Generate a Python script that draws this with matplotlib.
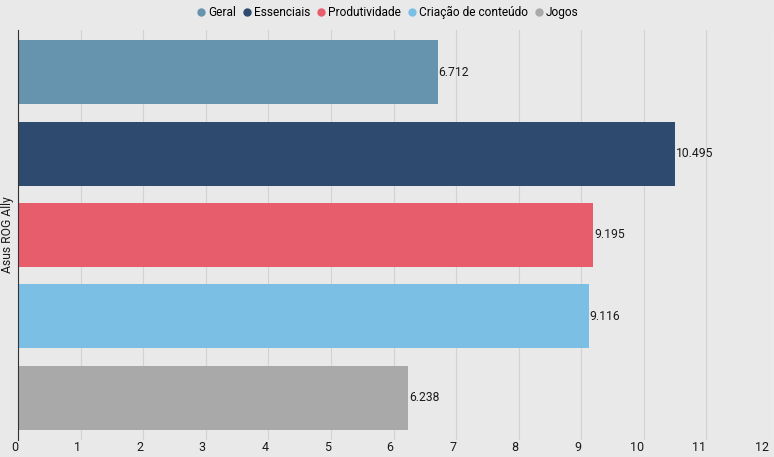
import matplotlib.pyplot as plt

plt.rcParams['font.family'] = ['Roboto', 'DejaVu Sans']

# dados
device = 'Asus ROG Ally'
series = ['Geral', 'Essenciais', 'Produtividade', 'Criação de conteúdo', 'Jogos']
values = [6.712, 10.495, 9.195, 9.116, 6.238]
colors = ['#6693ad', '#2f4a6f', '#e85d6b', '#7bbfe4', '#a9a9a9']
xticks = list(range(0, 13))

bg = '#e9e9e9'
fig = plt.figure(figsize=(7.74, 4.57), dpi=100, facecolor=bg)
ax = fig.add_axes([18 / 774, 17 / 457, 751 / 774, 410 / 457])
ax.set_facecolor(bg)

pos = list(range(len(values)))
bars = ax.barh(pos, values, height=0.79, color=colors, zorder=2)
for p, v in zip(pos, values):
    ax.text(v + 0.01, p, f'{v:.3f}', va='center', ha='left', fontsize=8.7, color='#1a1a1a', zorder=3)

ax.set_xlim(0, 12)
ax.set_ylim(4.52, -0.52)
ax.set_xticks(xticks)
ax.set_xticklabels([str(t) for t in xticks], ha='right', fontsize=9, color='#1a1a1a')
ax.tick_params(axis='x', length=0, pad=1)
ax.set_yticks([])
ax.grid(axis='x', color='#d2d2d2', linewidth=0.8, zorder=0)

for s in ['top', 'right', 'bottom']:
    ax.spines[s].set_visible(False)
ax.spines['left'].set_color('#333333')
ax.spines['left'].set_linewidth(0.8)

ax.set_ylabel(device, fontsize=8.7, color='#1a1a1a', labelpad=3)

handles = [plt.Line2D([], [], marker='o', linestyle='', color=c, markersize=5) for c in colors]
fig.legend(handles, series, loc='upper center', bbox_to_anchor=(0.5, 1.01), ncol=5,
           frameon=False, fontsize=8.6, handletextpad=0.1, handlelength=1.0,
           columnspacing=0.4)

fig.savefig('out.png', dpi=100, facecolor=bg)
